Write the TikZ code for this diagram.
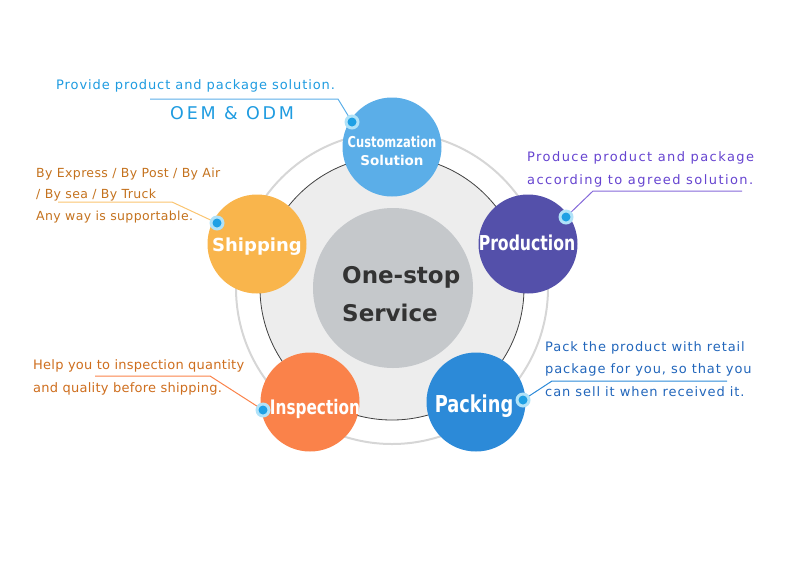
\documentclass[tikz,border=0pt]{standalone}
\usepackage{fontspec}
\setmainfont{DejaVu Sans}
\newfontfamily\condfont{DejaVu Sans Condensed}[FakeStretch=0.85]
\usetikzlibrary{positioning, backgrounds}
\definecolor{custcolor}{RGB}{91, 174, 232}
\definecolor{prodcolor}{RGB}{84, 80, 170}
\definecolor{packcolor}{RGB}{44, 138, 216}
\definecolor{inspcolor}{RGB}{250, 130, 74}
\definecolor{shipcolor}{RGB}{249, 181, 76}
\definecolor{hubcolor}{RGB}{197, 200, 203}
\definecolor{discfill}{RGB}{237, 237, 237}
\definecolor{halocolor}{RGB}{176, 226, 248}
\definecolor{dotcolor}{RGB}{30, 160, 228}
\definecolor{custtext}{RGB}{30, 155, 224}
\definecolor{prodtext}{RGB}{102, 68, 208}
\definecolor{shiptext}{RGB}{196, 114, 30}
\definecolor{insptext}{RGB}{206, 110, 30}
\definecolor{packtext}{RGB}{34, 102, 187}
\tikzstyle{service} = [circle, minimum size=99pt, inner sep=0pt]
\tikzstyle{caption} = [anchor=base, inner sep=0pt, text=white]
\tikzstyle{dot} = [circle, minimum size=15pt, inner sep=0pt, fill=halocolor, path picture={\fill[dotcolor] (path picture bounding box.center) circle (4.5pt);}]
\tikzstyle{note} = [anchor=base west, inner sep=0pt, align=left]
\tikzstyle{callout} = [line width=1pt]

\begin{document}
\begin{tikzpicture}[x=1pt, y=-1pt]
\useasboundingbox (0,0) rectangle (800,566);

% Rings
\node (outer) [circle, minimum size=312pt, draw=black!16, line width=2pt] at (392,288) {};
\node (disc) [circle, minimum size=264pt, draw=black!75, fill=discfill, line width=0.8pt] at (392,288) {};
\node (hub) [circle, minimum size=160pt, fill=hubcolor] at (393,288) {};
\node (hubtop) [anchor=base west, inner sep=0pt, text=black!80, font=\fontsize{23}{26}\selectfont\bfseries] at (342,283) {One-stop};
\node (hubbot) [anchor=base west, inner sep=0pt, text=black!80, font=\fontsize{23}{26}\selectfont\bfseries] at (342,321) {Service};

% Services
\node (cust) [service, fill=custcolor] at (392,147) {};
\node (prod) [service, fill=prodcolor] at (528,244) {};
\node (pack) [service, fill=packcolor] at (476,402) {};
\node (insp) [service, fill=inspcolor] at (310,402) {};
\node (ship) [service, fill=shipcolor] at (257,244) {};
\node (custcap) [caption, font=\condfont\bfseries\fontsize{15}{18}\selectfont] at (392,147) {Customzation};
\node (custsub) [caption, font=\bfseries\fontsize{13.5}{16}\selectfont] at (392,165) {Solution};
\node (prodcap) [caption, font=\condfont\bfseries\fontsize{20.5}{22}\selectfont] at (527,250) {Production};
\node (packcap) [caption, font=\condfont\bfseries\fontsize{23.3}{26}\selectfont] at (474,412) {Packing};
\node (inspcap) [caption, font=\condfont\bfseries\fontsize{20}{22}\selectfont] at (315,414) {Inspection};
\node (shipcap) [caption, font=\bfseries\fontsize{18}{20}\selectfont] at (257,251) {Shipping};

% Notes
\node (custnote) [note, text=custtext, font=\addfontfeature{LetterSpace=7}\fontsize{13}{22}\selectfont] at (56,89) {Provide product and package solution.};
\node (oem) [note, text=custtext, font=\addfontfeature{LetterSpace=16}\fontsize{17.5}{20}\selectfont] at (170,119) {OEM \& ODM};
\node (prodnote) [note, text=prodtext, font=\addfontfeature{LetterSpace=11}\fontsize{13}{22.5}\selectfont] at (527,184) {Produce product and package\\according to agreed solution.};
\node (shipnote) [note, text=shiptext, font=\addfontfeature{LetterSpace=3}\fontsize{12.5}{21.5}\selectfont] at (36,220) {By Express / By Post / By Air\\/ By sea / By Truck\\Any way is supportable.};
\node (inspnote) [note, text=insptext, font=\addfontfeature{LetterSpace=2}\fontsize{13}{23}\selectfont] at (33,392) {Help you to inspection quantity\\and quality before shipping.};
\node (packnote) [note, text=packtext, font=\addfontfeature{LetterSpace=7}\fontsize{13}{22.5}\selectfont] at (545,396) {Pack the product with retail\\package for you, so that you\\can sell it when received it.};

% Callouts
\node (custdot) [dot] at (352,122) {};
\node (proddot) [dot] at (566,217) {};
\node (packdot) [dot] at (523,400) {};
\node (inspdot) [dot] at (263,410) {};
\node (shipdot) [dot] at (217,223) {};
\coordinate (custbend) at (338,99);
\coordinate (custend) at (150,99);
\coordinate (prodbend) at (593,191);
\coordinate (prodend) at (742,191);
\coordinate (packbend) at (552,381);
\coordinate (packend) at (727,381);
\coordinate (inspbend) at (210,376);
\coordinate (inspend) at (95,376);
\coordinate (shipbend) at (172,202);
\coordinate (shipend) at (58,202);
\begin{pgfonlayer}{background}
\draw [callout, draw=custcolor] (custdot.center) -- (custbend) -- (custend);
\draw [callout, draw=prodtext!80] (proddot.center) -- (prodbend) -- (prodend);
\draw [callout, draw=packcolor] (packdot.center) -- (packbend) -- (packend);
\draw [callout, draw=inspcolor] (inspdot.center) -- (inspbend) -- (inspend);
\draw [callout, draw=shipcolor!80] (shipdot.center) -- (shipbend) -- (shipend);
\end{pgfonlayer}

\end{tikzpicture}
\end{document}
